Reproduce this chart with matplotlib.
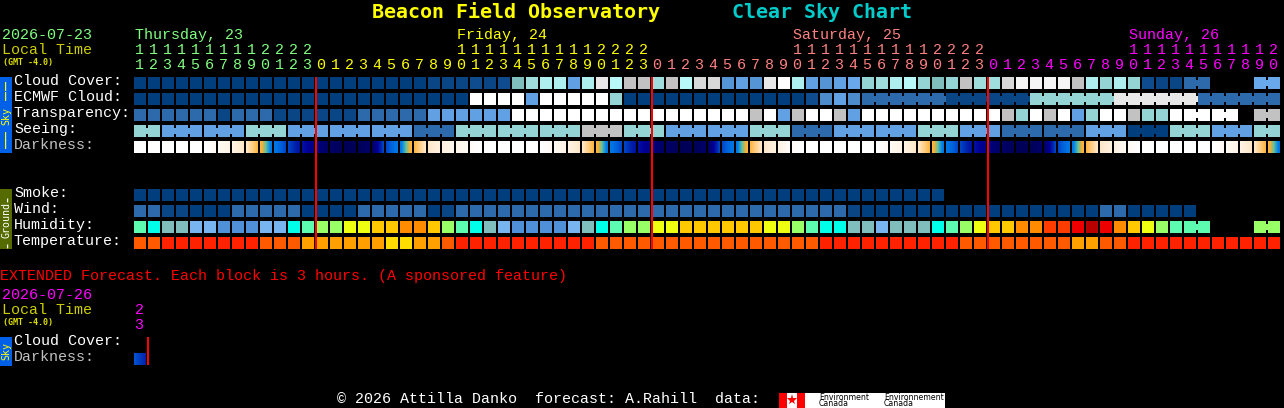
#!/usr/bin/python3
# Clear sky chart, block grid drawn on a pixel sized axes.

import numpy as np
import matplotlib
matplotlib.use("Agg")
import matplotlib.pyplot as plt
from matplotlib.colors import LinearSegmentedColormap
from matplotlib.patches import Rectangle

hours = list(range(11, 24)) + list(range(24)) * 2 + list(range(21))
day_names = ["Thursday, 23", "Friday, 24", "Saturday, 25", "Sunday, 26"]
day_start_cols = [0, 23, 47, 71]
midnight_cols = [13, 37, 61]
day_colors = ["#80FF80", "#FFFF00", "#FF8080", "#FF00FF"]

sky_colors = ["#003E7D", "#0A4585", "#0F4C8F", "#2D6AAB", "#4C8CCC", "#5595D5",
              "#62A0E4", "#6AA8EC", "#80BDBD", "#94D4D4", "#A0DDDD", "#AEEEEE",
              "#B8F8F8", "#C2C2C2", "#D8D8D8", "#E8E8E8", "#F5F5F5", "#FFFFFF"]
humidity_colors = ["#80BDBD", "#78B4F0", "#5090D8", "#00FFE8", "#5CFBB0", "#99FF66",
                   "#EEFF11", "#FFC800", "#FF8C00", "#FF3C00", "#EE0000", "#B80000"]
temp_colors = ["#FF2200", "#FF5A00", "#FFA000", "#FFDD00"]

cloud = [0]*21 + [1, 1, 1, 2, 1, 2, 8, 10, 11, 11, 6, 11, 15, 12, 13, 13, 10, 13, 12, 14, 14,
                  5, 6, 5, 15, 17, 11, 6, 5, 6, 7, 9, 10, 11, 12, 9, 8, 9, 13, 10, 10, 14,
                  16, 16, 16, 16, 13, 11, 9, 11, 9, 2, 1, 1, 3, 3,
                  None, None, None, 7, 7]
ecmwf = [0]*24 + [17]*4 + [6] + [17]*5 + [9] + [0]*13 + [2, 4, 6, 4] + [3]*6 + [1]*6 + [9]*6 + [15]*6 + [3]*6
transparency = ([3]*6 + [1] + [3]*3 + [1]*6 + [3]*5 + [6]*6 + [17]*17
                + [13, 17, 6, 13, 17, 17, 13, 6] + [17]*10
                + [13, 9, 17, 13, 17, 6, 9, 17, 17, 13, 9, 9, 17, 17, 17, 17, 17, None, 13, 13])
seeing_blocks = [9, 6, 6, 9, 6, 6, 6, 3, 9, 9, 9, 13, 9, 6, 6, 9, 3, 6, 6, 9, 6, 3, 3, 6, 0, 9, 6, 9]
seeing_sizes = [2] + [3]*26 + [2]
# darkness at the left edge of every block, the last one closes the row
darkness = [0, 0, 0, 0, 0, 0, .05, .1, .2, .36, .52, .62, .72, .8, .88, .95, .95, .88, .62, .52,
            .36, .2, .12, .08, .04, 0, 0, 0, 0, 0, .05, .1, .2, .36, .52, .62, .72, .8, .88, .95,
            .95, .88, .62, .52, .36, .2, .12, .03, 0, 0, 0, 0, 0, 0, .05, .1, .2, .36, .52, .62,
            .72, .8, .88, .95, .95, .88, .62, .52, .36, .2, .12, .05, 0, 0, 0, 0, 0, 0, .05, .1,
            .2, .36, .52]
smoke = [0]*58 + [None]*24
wind = [3, 3, 1, 1, 0, 0, 0] + [3]*5 + [0]*4 + [3]*5 + [0, 1] + [3]*28 + [1] + [0]*17 + [3, 3] + [0]*5 + [None]*6
humidity = [4, 3, 0, 0, 1, 1, 2, 2, 2, 1, 1, 3, 4, 5, 5, 6, 6, 7, 7, 8, 8,
            7, 5, 4, 3, 0, 1, 2, 2, 2, 2, 1, 0, 3, 4, 5, 5,
            6, 6, 7, 7, 7, 7, 7, 7, 6, 6, 5, 4, 3, 3, 0,
            0, 1, 0, 0, 0, 3, 4, 5, 6, 7, 7, 8, 8, 9, 9, 10, 11, 10, 8, 7, 6, 5, 4, 4, 4,
            None, None, None, 5, 5]
temperature = ([1]*2 + [0]*7 + [1]*3 + [2]*6 + [3]*2 + [2]*2 + [1] + [0]*10 + [1]*16
               + [0]*10 + [1]*8 + [2]*2 + [1]*2 + [0]*11)
extended_darkness = [.6, .68]

cloud_joins = [(75, 76), (80, 81)]
ecmwf_joins = [(52, 81)]
transparency_joins = [(75, 76), (77, 78), (80, 81)]
humidity_joins = [(75, 76), (80, 81)]

dark_stops = [(0, "#FFFFFF"), (.1, "#FFF4E6"), (.2, "#FFE8C8"), (.3, "#FFC878"), (.38, "#FFB030"),
              (.44, "#60C0A0"), (.5, "#0080E8"), (.58, "#0060DD"), (.68, "#0022AA"),
              (.76, "#000099"), (.85, "#00006E"), (1, "#000050")]
dark_cmap = LinearSegmentedColormap.from_list("dark", dark_stops)

X0, PITCH, SIZE = 134, 14, 12
MONO = "Liberation Mono"
BOLD = "DejaVu Sans Mono"


def col_x(col):
    return X0 + col * PITCH


def box(ax, x, y, w, h, color, zorder=2):
    ax.add_patch(Rectangle((x, y), w, h, facecolor=color, edgecolor="none",
                           antialiased=False, zorder=zorder))


def draw_row(ax, values, colors, y, joins=()):
    for col, v in enumerate(values):
        if v is not None:
            box(ax, col_x(col), y, SIZE, SIZE, colors[v])
    for first, last in joins:
        for col in range(first, last):
            box(ax, col_x(col) + SIZE, y + 3, PITCH - SIZE, 6, colors[values[col]])


def draw_dark(ax, values, y):
    for col in range(len(values) - 1):
        shade = np.linspace(values[col], values[col + 1], SIZE)[None, :]
        ax.imshow(shade, cmap=dark_cmap, vmin=0, vmax=1, aspect="auto", interpolation="nearest",
                  extent=(col_x(col), col_x(col) + SIZE, y + SIZE, y), zorder=2)


def label(ax, x, y, s, color="white", size=10.8, family=MONO, **kw):
    kw.setdefault("va", "center")
    ax.text(x, y, s, color=color, fontsize=size, family=family, **kw)


fig = plt.figure(figsize=(12.84, 4.08), dpi=100, facecolor="black")
ax = fig.add_axes([0, 0, 1, 1], facecolor="black")

# title
label(ax, 372, 12, "Beacon Field Observatory", "#FFFF00", 14.4, BOLD, fontweight="bold")
label(ax, 732, 12, "Clear Sky Chart", "#00CCCC", 14.4, BOLD, fontweight="bold")

# header
label(ax, 2, 35, "2026-07-23", "#80FF80")
label(ax, 2, 50, "Local Time", "#CCCC00")
label(ax, 3, 62, "(GMT -4.0)", "#E0E000", 6, BOLD, fontweight="bold")
for name, col, color in zip(day_names, day_start_cols, day_colors):
    label(ax, col_x(col) + 1, 35, name, color)
for col, hour in enumerate(hours):
    color = day_colors[np.searchsorted(midnight_cols, col, side="right")]
    if hour >= 10:
        label(ax, col_x(col) + 5, 50, str(hour // 10), color, ha="center")
    label(ax, col_x(col) + 5, 65, str(hour % 10), color, ha="center")

# sky rows
seeing = []
seeing_joins = []
for value, size in zip(seeing_blocks, seeing_sizes):
    seeing_joins.append((len(seeing), len(seeing) + size - 1))
    seeing += [value] * size
draw_row(ax, cloud, sky_colors, 77, cloud_joins)
draw_row(ax, ecmwf, sky_colors, 93, ecmwf_joins)
draw_row(ax, transparency, sky_colors, 109, transparency_joins)
draw_row(ax, seeing, sky_colors, 125, seeing_joins)
draw_dark(ax, darkness, 141)

# ground rows
draw_row(ax, smoke, sky_colors, 189)
draw_row(ax, wind, sky_colors, 205)
draw_row(ax, humidity, humidity_colors, 221, humidity_joins)
draw_row(ax, temperature, temp_colors, 237)

for col in midnight_cols:
    box(ax, col_x(col) - 1, 77, 2, 172, "#FF0000", zorder=3)

for y, s, color in [(81, "Cloud Cover:", "white"), (97, "ECMWF Cloud:", "white"),
                    (113, "Transparency:", "white"), (129, "Seeing:", "white"),
                    (145, "Darkness:", "#C0C0C0"), (193, "Smoke:", "white"),
                    (209, "Wind:", "white"), (225, "Humidity:", "white"),
                    (241, "Temperature:", "white")]:
    label(ax, 14, y, s, color)

# side bands
box(ax, 0, 77, 12, 76, "#0060E8")
box(ax, 0, 189, 12, 60, "#556B00")
box(ax, 0, 337, 12, 29, "#0060E8")
for y in (86, 95, 135, 144):
    label(ax, 6, y, "\u2013", "#FFFF00", family=BOLD, rotation=90, ha="center")
label(ax, 6, 116, "Sky", "#FFFF00", 7.2, BOLD, rotation=90, ha="center")
for y in (198, 244):
    label(ax, 6, y, "-", "white", family=BOLD, rotation=90, ha="center")
label(ax, 6, 220, "Ground", "white", 7.2, BOLD, rotation=90, ha="center")
label(ax, 6, 351, "Sky", "#FFFF00", 7.2, BOLD, rotation=90, ha="center")

# extended forecast
label(ax, 0, 276, "EXTENDED Forecast. Each block is 3 hours. (A sponsored feature)", "#FF0000")
label(ax, 2, 295, "2026-07-26", "#FF00FF")
label(ax, 2, 310, "Local Time", "#CCCC00")
label(ax, 3, 322, "(GMT -4.0)", "#E0E000", 6, BOLD, fontweight="bold")
label(ax, col_x(0) + 5, 310, "2", "#FF00FF", ha="center")
label(ax, col_x(0) + 5, 325, "3", "#FF00FF", ha="center")
label(ax, 14, 341, "Cloud Cover:")
label(ax, 14, 357, "Darkness:", "#C0C0C0")
draw_dark(ax, extended_darkness, 353)
box(ax, 147, 337, 2, 28, "#FF0000", zorder=3)

# footer
label(ax, 337, 399, "\u00a9 2026 Attilla Danko  forecast: A.Rahill  data:")
box(ax, 779, 393, 166, 15, "white")
box(ax, 779, 393, 8, 15, "#FF0000", zorder=3)
box(ax, 797, 393, 8, 15, "#FF0000", zorder=3)
ax.plot([792], [400], marker="*", ms=8, color="#FF0000", mew=0, zorder=3)
for x, s in [(819, "Environment"), (884, "Environnement")]:
    ax.text(x, 397, s, color="black", fontsize=5.6, va="center", zorder=4)
    ax.text(x, 404, "Canada", color="black", fontsize=5.6, va="center", zorder=4)

ax.set_xlim(0, 1284)
ax.set_ylim(408, 0)
ax.axis("off")
fig.savefig("out.png", dpi=100, facecolor="black")
